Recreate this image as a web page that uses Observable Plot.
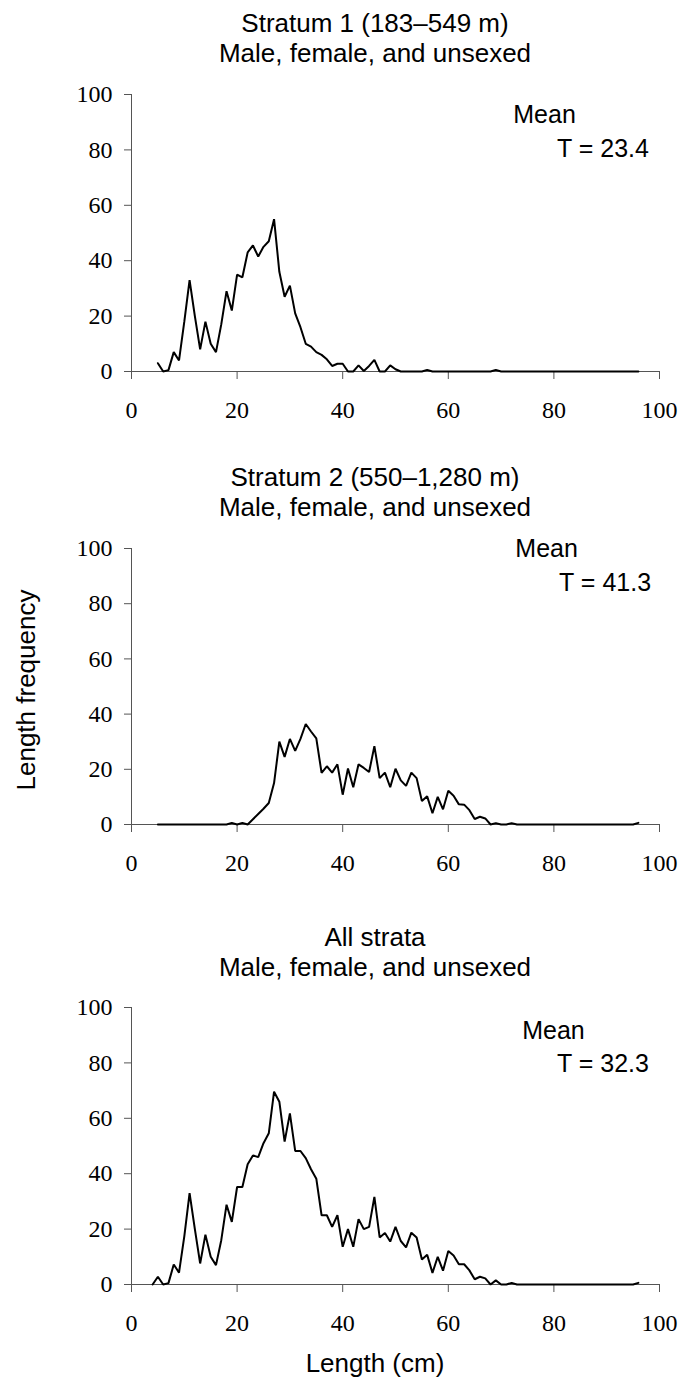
<!DOCTYPE html>
<html>
<head>
<meta charset="utf-8">
<script src="https://cdn.jsdelivr.net/npm/d3@7"></script>
<script src="https://cdn.jsdelivr.net/npm/@observablehq/plot@0.6"></script>
<style>
  html, body { margin: 0; padding: 0; background: #fff; }
  body { width: 683px; height: 1388px; position: relative; overflow: hidden;
         font-family: "Liberation Sans", Arial, sans-serif; color: #000; }
  .title { position: absolute; left: 0; width: 750px; text-align: center;
           font-size: 26px; line-height: 30px; white-space: nowrap; }
  .panel { position: absolute; left: 0; }
  .panel g[aria-label="y-axis tick label"],
  .panel g[aria-label="x-axis tick label"],
  .panel g[aria-label="y-axis tick label"] text,
  .panel g[aria-label="x-axis tick label"] text {
    font-family: "Liberation Serif", "Times New Roman", serif !important;
    font-size: 24px !important;
    font-variant: normal !important;
    fill: #000 !important;
  }
  .panel g[aria-label="text"], .panel g[aria-label="text"] text {
    font-family: "Liberation Sans", Arial, sans-serif !important;
    font-size: 25px !important;
  }
  .ylab { position: absolute; left: 26px; top: 690px; font-size: 26px; white-space: nowrap;
          transform: translate(-50%, -50%) rotate(-90deg); }
  .xlab { position: absolute; left: 0; width: 750px; text-align: center; top: 1348px;
          font-size: 26px; line-height: 30px; }
</style>
</head>
<body>
<script>
// ---- data ----
const lengths = [
  4, 5, 6, 7, 8, 9,
  10, 11, 12, 13, 14, 15, 16, 17, 18, 19,
  20, 21, 22, 23, 24, 25, 26, 27, 28, 29,
  30, 31, 32, 33, 34, 35, 36, 37, 38, 39,
  40, 41, 42, 43, 44, 45, 46, 47, 48, 49,
  50, 51, 52, 53, 54, 55, 56, 57, 58, 59,
  60, 61, 62, 63, 64, 65, 66, 67, 68, 69,
  70, 71, 72, 73, 74, 75, 76, 77, 78, 79,
  80, 81, 82, 83, 84, 85, 86, 87, 88, 89,
  90, 91, 92, 93, 94, 95, 96
];

const stratum1 = [
  null, 3, 0, 0.5, 7, 4,
  18, 33, 20, 8, 18, 10, 7, 17, 29, 22,
  35, 34, 43, 45.5, 41.5, 45, 47, 55, 36, 27,
  31, 21, 16, 10, 9, 7, 6, 4.4, 2, 2.8,
  2.8, 0, 0, 2.2, 0.2, 2, 4.2, 0, 0, 2.2,
  0.8, 0, 0, 0, 0, 0, 0.6, 0, 0, 0,
  0, 0, 0, 0, 0, 0, 0, 0, 0, 0.6,
  0, 0, 0, 0, 0, 0, 0, 0, 0, 0,
  0, 0, 0, 0, 0, 0, 0, 0, 0, 0,
  0, 0, 0, 0, 0, 0, 0
];

const stratum2 = [
  null, 0, 0, 0, 0, 0,
  0, 0, 0, 0, 0, 0, 0, 0, 0, 0.6,
  0, 0.6, 0, 1.9, 3.8, 5.7, 7.8, 15, 30, 24.5,
  31, 26.7, 31, 36.4, 33.7, 31.2, 18.7, 21.1, 18.8, 21.8,
  10.8, 20.3, 13.5, 21.8, 20.5, 19, 28.4, 16.8, 18.8, 13.5,
  20.2, 16, 14, 18.8, 16.8, 8.5, 10.2, 4.1, 10, 5.5,
  12.2, 10.4, 7.3, 7.2, 5.2, 2, 2.8, 2.2, 0, 0.5,
  0, 0, 0.5, 0, 0, 0, 0, 0, 0, 0,
  0, 0, 0, 0, 0, 0, 0, 0, 0, 0,
  0, 0, 0, 0, 0, 0, 0.6
];

const allStrata = [
  0, 2.8, 0, 0.5, 7.2, 4.3,
  17.4, 33, 20, 7.6, 18, 10, 7, 16, 28.8, 22.6,
  35.2, 35.2, 43.4, 46.6, 46, 51, 54.6, 69.6, 66, 51.6,
  61.8, 48.2, 48.2, 45.6, 41.6, 38.2, 25, 25, 20.8, 25,
  13.6, 20, 13.6, 23.6, 20, 20.8, 31.6, 17, 18.6, 15.5,
  20.8, 15.7, 13.4, 18.7, 17, 9, 10.7, 4.2, 10, 5,
  12.1, 10.5, 7.3, 7.3, 5.1, 1.9, 2.8, 2.2, 0, 1.5,
  0, 0, 0.6, 0, 0, 0, 0, 0, 0, 0,
  0, 0, 0, 0, 0, 0, 0, 0, 0, 0,
  0, 0, 0, 0, 0, 0, 0.6
];

const xTicks = [0, 20, 40, 60, 80, 100];
const yTicks = [0, 20, 40, 60, 80, 100];

const titles = [
  ["Stratum 1 (183\u2013549 m)", "Male, female, and unsexed"],
  ["Stratum 2 (550\u20131,280 m)", "Male, female, and unsexed"],
  ["All strata", "Male, female, and unsexed"]
];
const meanWord = "Mean";
const meanLabels = ["T = 23.4", "T = 41.3", "T = 32.3"];
const yAxisTitle = "Length frequency";
const xAxisTitle = "Length (cm)";

// ---- layout ----
const layout = [
  {series: stratum1, titleTop: 8,   svgTop: 84,  plotH: 277, mx: 72.3, my: 89.8, tx: 98, ty: 77.4},
  {series: stratum2, titleTop: 462, svgTop: 538, plotH: 276, mx: 72.7, my: 96.9, tx: 98.4, ty: 84.5},
  {series: allStrata, titleTop: 922, svgTop: 997, plotH: 277, mx: 74, my: 88.7, tx: 98, ty: 76.7}
];

const sans = "Liberation Sans, Arial, sans-serif";
const serif = "Liberation Serif, Times New Roman, serif";
const axisGray = "#555";

layout.forEach((p, k) => {
  const t = document.createElement("div");
  t.className = "title";
  t.style.top = p.titleTop + "px";
  t.innerHTML = titles[k].map(s => `<div>${s}</div>`).join("");
  document.body.appendChild(t);

  const data = lengths.map((x, i) => ({x, y: p.series[i]}));
  const mt = 10, mb = 60;
  const chart = Plot.plot({
    width: 683,
    height: mt + p.plotH + mb,
    marginTop: mt,
    marginBottom: mb,
    marginLeft: 131,
    marginRight: 24,
    x: {domain: [0, 100]},
    y: {domain: [0, 100]},
    style: {fontFamily: serif, fontSize: "24px", color: "#000", background: "transparent", overflow: "visible"},
    marks: [
      Plot.ruleX([0], {stroke: axisGray, strokeWidth: 1}),
      Plot.ruleY([0], {stroke: axisGray, strokeWidth: 1}),
      Plot.axisY(yTicks, {tickSize: 7, tickPadding: 12, stroke: axisGray, fill: "#000", label: null}),
      Plot.axisX(xTicks, {tickSize: 8, tickPadding: 21, stroke: axisGray, fill: "#000", label: null}),
      Plot.line(data, {x: "x", y: "y", stroke: "#000", strokeWidth: 2, strokeLinejoin: "miter"}),
      Plot.text([meanWord], {x: p.mx, y: p.my, textAnchor: "start", lineAnchor: "bottom", fill: "#000"}),
      Plot.text([meanLabels[k]], {x: p.tx, y: p.ty, textAnchor: "end", lineAnchor: "bottom", fill: "#000"})
    ]
  });
  chart.classList.add("panel");
  chart.style.top = p.svgTop + "px";
  document.body.appendChild(chart);
});

const yl = document.createElement("div");
yl.className = "ylab";
yl.textContent = yAxisTitle;
document.body.appendChild(yl);

const xl = document.createElement("div");
xl.className = "xlab";
xl.textContent = xAxisTitle;
document.body.appendChild(xl);
</script>
</body>
</html>
